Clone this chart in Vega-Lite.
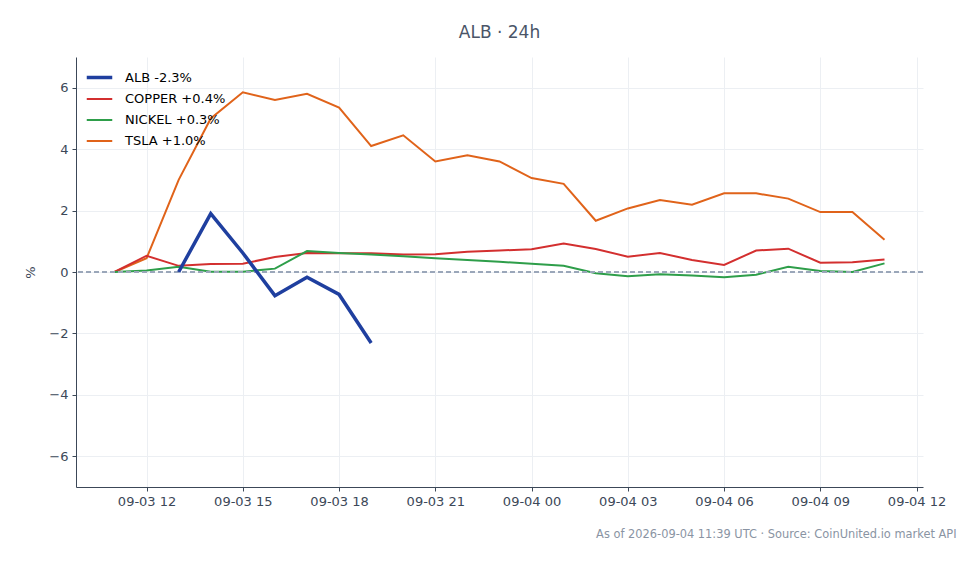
{
  "$schema": "https://vega.github.io/schema/vega-lite/v6.json",
  "width": 847,
  "height": 430,
  "autosize": {"type": "none"},
  "padding": {"left": 76, "top": 57, "right": 57, "bottom": 77},
  "background": "white",
  "config": {
    "font": "DejaVu Sans",
    "view": {"stroke": null},
    "axis": {
      "domainColor": "#3c4858",
      "tickColor": "#3c4858",
      "labelColor": "#3c4858",
      "gridColor": "#eceff3",
      "tickSize": 4,
      "labelFontSize": 13,
      "labelPadding": 4
    },
    "legend": {
      "orient": "none",
      "legendX": 9,
      "legendY": 6,
      "symbolType": "stroke",
      "symbolSize": 650,
      "labelFontSize": 13,
      "labelColor": "#000000",
      "labelOffset": 11,
      "rowPadding": 0
    }
  },
  "title": {
    "text": "ALB · 24h",
    "anchor": "middle",
    "fontSize": 17,
    "fontWeight": "normal",
    "color": "#4a5568",
    "offset": 15
  },
  "data": {
    "values": [
      {"t": "2026-09-03T11:00:00Z", "s": "TSLA +1.0%", "v": 0},
      {"t": "2026-09-03T12:00:00Z", "s": "TSLA +1.0%", "v": 0.45},
      {"t": "2026-09-03T13:00:00Z", "s": "TSLA +1.0%", "v": 3.0},
      {"t": "2026-09-03T14:00:00Z", "s": "TSLA +1.0%", "v": 5.0},
      {"t": "2026-09-03T15:00:00Z", "s": "TSLA +1.0%", "v": 5.85},
      {"t": "2026-09-03T16:00:00Z", "s": "TSLA +1.0%", "v": 5.6},
      {"t": "2026-09-03T17:00:00Z", "s": "TSLA +1.0%", "v": 5.8},
      {"t": "2026-09-03T18:00:00Z", "s": "TSLA +1.0%", "v": 5.35},
      {"t": "2026-09-03T19:00:00Z", "s": "TSLA +1.0%", "v": 4.1},
      {"t": "2026-09-03T20:00:00Z", "s": "TSLA +1.0%", "v": 4.45},
      {"t": "2026-09-03T21:00:00Z", "s": "TSLA +1.0%", "v": 3.6},
      {"t": "2026-09-03T22:00:00Z", "s": "TSLA +1.0%", "v": 3.8},
      {"t": "2026-09-03T23:00:00Z", "s": "TSLA +1.0%", "v": 3.6},
      {"t": "2026-09-04T00:00:00Z", "s": "TSLA +1.0%", "v": 3.06},
      {"t": "2026-09-04T01:00:00Z", "s": "TSLA +1.0%", "v": 2.87},
      {"t": "2026-09-04T02:00:00Z", "s": "TSLA +1.0%", "v": 1.67},
      {"t": "2026-09-04T03:00:00Z", "s": "TSLA +1.0%", "v": 2.07},
      {"t": "2026-09-04T04:00:00Z", "s": "TSLA +1.0%", "v": 2.34},
      {"t": "2026-09-04T05:00:00Z", "s": "TSLA +1.0%", "v": 2.19},
      {"t": "2026-09-04T06:00:00Z", "s": "TSLA +1.0%", "v": 2.56},
      {"t": "2026-09-04T07:00:00Z", "s": "TSLA +1.0%", "v": 2.56},
      {"t": "2026-09-04T08:00:00Z", "s": "TSLA +1.0%", "v": 2.39},
      {"t": "2026-09-04T09:00:00Z", "s": "TSLA +1.0%", "v": 1.95},
      {"t": "2026-09-04T10:00:00Z", "s": "TSLA +1.0%", "v": 1.95},
      {"t": "2026-09-04T11:00:00Z", "s": "TSLA +1.0%", "v": 1.05},
      {"t": "2026-09-03T11:00:00Z", "s": "COPPER +0.4%", "v": 0},
      {"t": "2026-09-03T12:00:00Z", "s": "COPPER +0.4%", "v": 0.53},
      {"t": "2026-09-03T13:00:00Z", "s": "COPPER +0.4%", "v": 0.2},
      {"t": "2026-09-03T14:00:00Z", "s": "COPPER +0.4%", "v": 0.26},
      {"t": "2026-09-03T15:00:00Z", "s": "COPPER +0.4%", "v": 0.27},
      {"t": "2026-09-03T16:00:00Z", "s": "COPPER +0.4%", "v": 0.49},
      {"t": "2026-09-03T17:00:00Z", "s": "COPPER +0.4%", "v": 0.62},
      {"t": "2026-09-03T18:00:00Z", "s": "COPPER +0.4%", "v": 0.61},
      {"t": "2026-09-03T19:00:00Z", "s": "COPPER +0.4%", "v": 0.61},
      {"t": "2026-09-03T20:00:00Z", "s": "COPPER +0.4%", "v": 0.57},
      {"t": "2026-09-03T21:00:00Z", "s": "COPPER +0.4%", "v": 0.58},
      {"t": "2026-09-03T22:00:00Z", "s": "COPPER +0.4%", "v": 0.66},
      {"t": "2026-09-03T23:00:00Z", "s": "COPPER +0.4%", "v": 0.7},
      {"t": "2026-09-04T00:00:00Z", "s": "COPPER +0.4%", "v": 0.74},
      {"t": "2026-09-04T01:00:00Z", "s": "COPPER +0.4%", "v": 0.93},
      {"t": "2026-09-04T02:00:00Z", "s": "COPPER +0.4%", "v": 0.75},
      {"t": "2026-09-04T03:00:00Z", "s": "COPPER +0.4%", "v": 0.5},
      {"t": "2026-09-04T04:00:00Z", "s": "COPPER +0.4%", "v": 0.62},
      {"t": "2026-09-04T05:00:00Z", "s": "COPPER +0.4%", "v": 0.39},
      {"t": "2026-09-04T06:00:00Z", "s": "COPPER +0.4%", "v": 0.23},
      {"t": "2026-09-04T07:00:00Z", "s": "COPPER +0.4%", "v": 0.7},
      {"t": "2026-09-04T08:00:00Z", "s": "COPPER +0.4%", "v": 0.76},
      {"t": "2026-09-04T09:00:00Z", "s": "COPPER +0.4%", "v": 0.3},
      {"t": "2026-09-04T10:00:00Z", "s": "COPPER +0.4%", "v": 0.32},
      {"t": "2026-09-04T11:00:00Z", "s": "COPPER +0.4%", "v": 0.41},
      {"t": "2026-09-03T11:00:00Z", "s": "NICKEL +0.3%", "v": 0},
      {"t": "2026-09-03T12:00:00Z", "s": "NICKEL +0.3%", "v": 0.05},
      {"t": "2026-09-03T13:00:00Z", "s": "NICKEL +0.3%", "v": 0.17},
      {"t": "2026-09-03T14:00:00Z", "s": "NICKEL +0.3%", "v": 0.01},
      {"t": "2026-09-03T15:00:00Z", "s": "NICKEL +0.3%", "v": 0.01},
      {"t": "2026-09-03T16:00:00Z", "s": "NICKEL +0.3%", "v": 0.11},
      {"t": "2026-09-03T17:00:00Z", "s": "NICKEL +0.3%", "v": 0.68},
      {"t": "2026-09-03T18:00:00Z", "s": "NICKEL +0.3%", "v": 0.62},
      {"t": "2026-09-03T19:00:00Z", "s": "NICKEL +0.3%", "v": 0.57},
      {"t": "2026-09-03T20:00:00Z", "s": "NICKEL +0.3%", "v": 0.51},
      {"t": "2026-09-03T21:00:00Z", "s": "NICKEL +0.3%", "v": 0.45},
      {"t": "2026-09-03T22:00:00Z", "s": "NICKEL +0.3%", "v": 0.39},
      {"t": "2026-09-03T23:00:00Z", "s": "NICKEL +0.3%", "v": 0.33},
      {"t": "2026-09-04T00:00:00Z", "s": "NICKEL +0.3%", "v": 0.27},
      {"t": "2026-09-04T01:00:00Z", "s": "NICKEL +0.3%", "v": 0.2},
      {"t": "2026-09-04T02:00:00Z", "s": "NICKEL +0.3%", "v": -0.04},
      {"t": "2026-09-04T03:00:00Z", "s": "NICKEL +0.3%", "v": -0.14},
      {"t": "2026-09-04T04:00:00Z", "s": "NICKEL +0.3%", "v": -0.07},
      {"t": "2026-09-04T05:00:00Z", "s": "NICKEL +0.3%", "v": -0.11},
      {"t": "2026-09-04T06:00:00Z", "s": "NICKEL +0.3%", "v": -0.17},
      {"t": "2026-09-04T07:00:00Z", "s": "NICKEL +0.3%", "v": -0.09},
      {"t": "2026-09-04T08:00:00Z", "s": "NICKEL +0.3%", "v": 0.17},
      {"t": "2026-09-04T09:00:00Z", "s": "NICKEL +0.3%", "v": 0.03},
      {"t": "2026-09-04T10:00:00Z", "s": "NICKEL +0.3%", "v": 0.0},
      {"t": "2026-09-04T11:00:00Z", "s": "NICKEL +0.3%", "v": 0.28},
      {"t": "2026-09-03T13:00:00Z", "s": "ALB -2.3%", "v": 0},
      {"t": "2026-09-03T14:00:00Z", "s": "ALB -2.3%", "v": 1.9},
      {"t": "2026-09-03T15:00:00Z", "s": "ALB -2.3%", "v": 0.62},
      {"t": "2026-09-03T16:00:00Z", "s": "ALB -2.3%", "v": -0.77},
      {"t": "2026-09-03T17:00:00Z", "s": "ALB -2.3%", "v": -0.17},
      {"t": "2026-09-03T18:00:00Z", "s": "ALB -2.3%", "v": -0.73},
      {"t": "2026-09-03T19:00:00Z", "s": "ALB -2.3%", "v": -2.31}
    ]
  },
  "layer": [
    {
      "mark": {"type": "line", "interpolate": "linear"},
      "transform": [{"filter": "datum.s !== 'ALB -2.3%'"}],
      "encoding": {
        "x": {
          "field": "t",
          "type": "temporal",
          "scale": {
            "type": "utc",
            "domain": [
              {"year": 2026, "month": 9, "date": 3, "hours": 9, "minutes": 48, "utc": true},
              {"year": 2026, "month": 9, "date": 4, "hours": 12, "minutes": 12, "utc": true}
            ]
          },
          "axis": {
            "format": "%m-%d %H",
            "values": [
              {"year": 2026, "month": 9, "date": 3, "hours": 12, "utc": true},
              {"year": 2026, "month": 9, "date": 3, "hours": 15, "utc": true},
              {"year": 2026, "month": 9, "date": 3, "hours": 18, "utc": true},
              {"year": 2026, "month": 9, "date": 3, "hours": 21, "utc": true},
              {"year": 2026, "month": 9, "date": 4, "hours": 0, "utc": true},
              {"year": 2026, "month": 9, "date": 4, "hours": 3, "utc": true},
              {"year": 2026, "month": 9, "date": 4, "hours": 6, "utc": true},
              {"year": 2026, "month": 9, "date": 4, "hours": 9, "utc": true},
              {"year": 2026, "month": 9, "date": 4, "hours": 12, "utc": true}
            ],
            "grid": true,
            "title": "As of 2026-09-04 11:39 UTC · Source: CoinUnited.io market API",
            "titleFontSize": 11.4,
            "titleFontWeight": "normal",
            "titleColor": "#8a94a3",
            "titleX": 880,
            "titleY": 47,
            "titleAlign": "right",
            "titleBaseline": "middle"
          }
        },
        "y": {
          "field": "v",
          "type": "quantitative",
          "scale": {"domain": [-7, 7], "nice": false, "zero": false},
          "axis": {
            "values": [-6, -4, -2, 0, 2, 4, 6],
            "grid": true,
            "title": "%",
            "titleFontSize": 13,
            "titleFontWeight": "normal",
            "titleColor": "#3c4858",
            "titleX": -46,
            "titleY": 215,
            "titleAlign": "center",
            "titleBaseline": "middle",
            "titleAngle": -90
          }
        },
        "color": {
          "field": "s",
          "type": "nominal",
          "title": null,
          "scale": {
            "domain": ["ALB -2.3%", "COPPER +0.4%", "NICKEL +0.3%", "TSLA +1.0%"],
            "range": ["#1f3f9f", "#d32f2f", "#2e9e4a", "#e0631a"]
          }
        },
        "strokeWidth": {
          "field": "s",
          "type": "nominal",
          "title": null,
          "scale": {
            "type": "ordinal",
            "domain": ["ALB -2.3%", "COPPER +0.4%", "NICKEL +0.3%", "TSLA +1.0%"],
            "range": [3.5, 2, 2, 2]
          }
        }
      }
    },
    {
      "mark": {"type": "rule", "strokeDash": [5, 3], "color": "#9aa6b9", "strokeWidth": 1},
      "encoding": {"y": {"datum": 0, "type": "quantitative"}}
    },
    {
      "mark": {"type": "line", "interpolate": "linear"},
      "transform": [{"filter": "datum.s === 'ALB -2.3%'"}],
      "encoding": {
        "x": {"field": "t", "type": "temporal"},
        "y": {"field": "v", "type": "quantitative"},
        "color": {"field": "s", "type": "nominal", "title": null},
        "strokeWidth": {
          "field": "s",
          "type": "nominal",
          "title": null,
          "scale": {
            "type": "ordinal",
            "domain": ["ALB -2.3%", "COPPER +0.4%", "NICKEL +0.3%", "TSLA +1.0%"],
            "range": [3.5, 2, 2, 2]
          }
        }
      }
    }
  ]
}
